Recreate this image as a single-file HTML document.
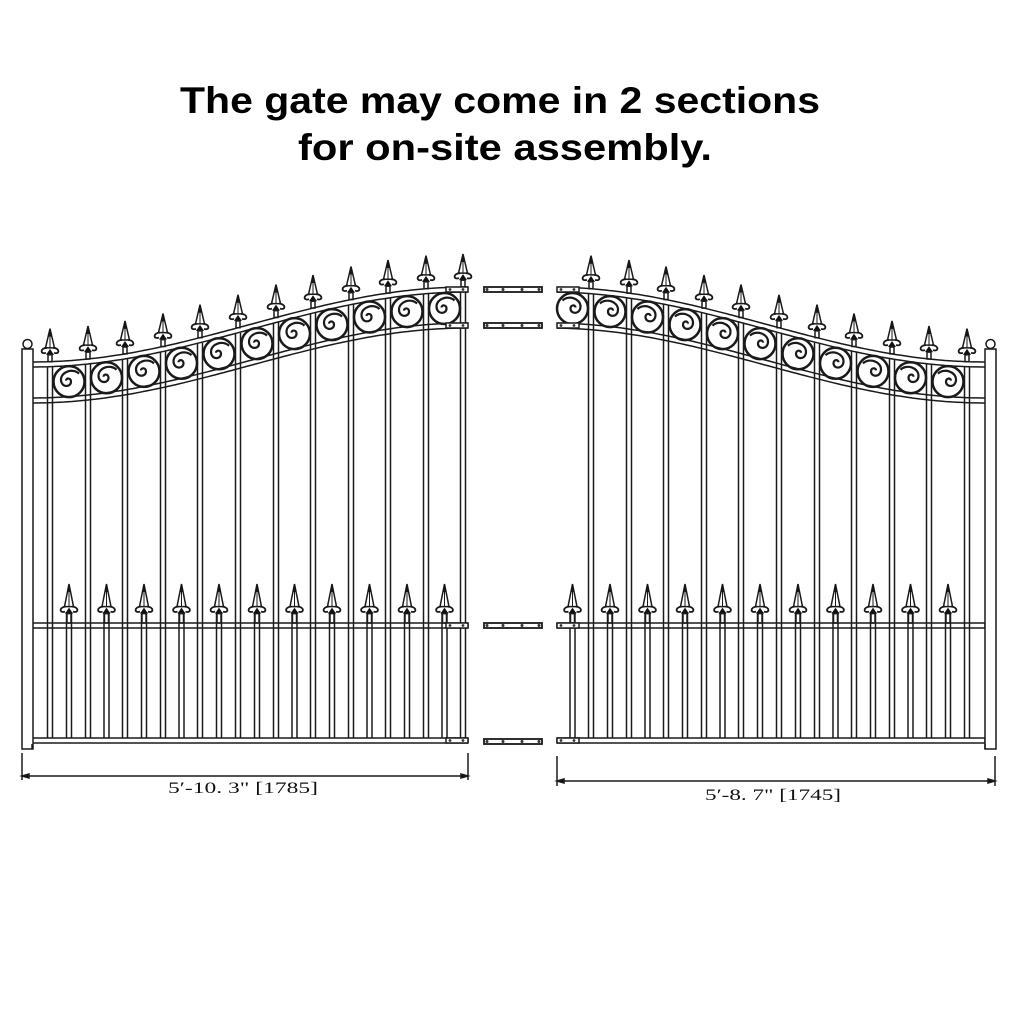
<!DOCTYPE html>
<html><head><meta charset="utf-8">
<style>
html,body{margin:0;padding:0;background:#fff;}
svg{display:block;}
</style></head>
<body>
<svg id="s" width="1024" height="1024" viewBox="0 0 1024 1024" xmlns="http://www.w3.org/2000/svg">
<rect width="1024" height="1024" fill="#fff"/>
<text x="500" y="113" font-family="Liberation Sans, sans-serif" font-weight="bold" font-size="37" text-anchor="middle" textLength="640" lengthAdjust="spacingAndGlyphs" fill="#000">The gate may come in 2 sections</text>
<text x="505" y="160" font-family="Liberation Sans, sans-serif" font-weight="bold" font-size="37" text-anchor="middle" textLength="414" lengthAdjust="spacingAndGlyphs" fill="#000">for on-site assembly.</text>
<text x="243" y="793" font-family="Liberation Serif, serif" font-size="16" text-anchor="middle" textLength="150" lengthAdjust="spacingAndGlyphs" fill="#111">5′-10. 3"  [1785]</text>
<text x="773" y="800" font-family="Liberation Serif, serif" font-size="16" text-anchor="middle" textLength="136" lengthAdjust="spacingAndGlyphs" fill="#111">5′-8. 7"  [1745]</text>
<g id="g" fill="none" stroke="#1a1a1a" stroke-width="1.5"></g>
</svg>
<script>
(function(){
var out=[];
function top(x){var t=(x-32)/436;if(t<0)t=0;if(t>1)t=1;return 362-75*(1-Math.cos(Math.PI*t))/2;}
function L(a,b,c,d){out.push('<line x1="'+a+'" y1="'+b+'" x2="'+c+'" y2="'+d+'"/>');}
function curve(off,x0,x1,M){var p='';for(var x=x0;x<=x1+0.01;x+=4){var X=M(x);p+=(p?'L':'M')+X.toFixed(1)+' '+(top(x)+off).toFixed(1);}out.push('<path d="'+p+'"/>');}
function spear(x,b,h){
 var t=b-h, m=b-h*0.42;
 out.push('<path d="M'+x+' '+t+' L'+(x-4.5)+' '+(m)+' L'+(x+4.5)+' '+(m)+' Z" stroke-width="1.5" fill="#fff"/>');
 out.push('<path d="M'+x+' '+t+' L'+(x-1.5)+' '+(t+8)+' L'+(x+1.5)+' '+(t+8)+' Z" fill="#111" stroke="none"/>');
 out.push('<path d="M'+x+' '+(t+4)+' L'+x+' '+(m)+'" stroke-width="1"/>');
 out.push('<path d="M'+(x-3)+' '+(m)+' C'+(x-10)+' '+(m)+' '+(x-10)+' '+(m+7)+' '+(x-4)+' '+(m+5)+' M'+(x+3)+' '+(m)+' C'+(x+10)+' '+(m)+' '+(x+10)+' '+(m+7)+' '+(x+4)+' '+(m+5)+'" stroke-width="1.8"/>');
 out.push('<path d="M'+x+' '+(m+1)+' L'+(x-4)+' '+(m+7)+' L'+(x+4)+' '+(m+7)+' Z" fill="#111" stroke="none"/>');
 out.push('<rect x="'+(x-2)+'" y="'+(m+7)+'" width="4" height="'+(b-m-7)+'"/>');
}
function scroll(cx,cy,mir){
 out.push('<circle cx="'+cx+'" cy="'+cy+'" r="15.5" stroke-width="2.5"/>');
 var s=mir?-1:1;
 out.push('<path d="M'+(cx+s*10)+' '+(cy-8)+' C'+(cx+s*4)+' '+(cy-14)+' '+(cx-s*8)+' '+(cy-10)+' '+(cx-s*8)+' '+(cy-2)+' C'+(cx-s*8)+' '+(cy+6)+' '+(cx+s*2)+' '+(cy+6)+' '+(cx+s*2)+' '+(cy)+' C'+(cx+s*2)+' '+(cy-4)+' '+(cx-s*3)+' '+(cy-4)+' '+(cx-s*3)+' '+(cy-1)+'" stroke-width="2.2"/>');
}
function gate(mir){
 var M=function(x){return mir?1017-x:x;};
 var xs=[50,88,125,163,200,238,276,313,351,388,426,463];
 curve(0,32,mir?460:468,M);curve(5,32,mir?460:468,M);curve(36,32,mir?460:468,M);curve(41,32,mir?460:468,M);
 var a=mir?557:32,b=mir?985:468;
 L(a,623,b,623);L(a,628,b,628);L(a,738,b,738);L(a,743,b,743);
 L(a,623,a,628);L(b,623,b,628);L(a,738,a,743);L(b,738,b,743);
 var px=mir?985:22;
 out.push('<path d="M'+px+' 349 L'+(px+11)+' 349 L'+(px+11)+' 749 L'+(px)+' 749 Z" fill="#fff"/>');
 out.push('<circle cx="'+(px+5.5)+'" cy="344" r="4.5" fill="#fff"/>');
 if(!mir){L(32,744,32,749);}else{L(985,744,985,749);}
 for(var i=0;i<xs.length;i++){
  if(mir&&i==11)continue;
  var x=M(xs[i]);var ty=top(xs[i]);
  L(x-2.5,ty+5,x-2.5,738);L(x+2.5,ty+5,x+2.5,738);
  spear(x,ty,33);
 }
 for(var i=0;i<11;i++){var sx=(xs[i]+xs[i+1])/2;var cx=M(sx);var cy=top(sx)+21;scroll(cx,cy,mir);}
 for(var i=0;i<11;i++){var sx=M((xs[i]+xs[i+1])/2);L(sx-2.5,612,sx-2.5,738);L(sx+2.5,612,sx+2.5,738);spear(sx,623,39);}
 var ex=mir?557:446, ew=22;
 [top(468),top(468)+36,623,738].forEach(function(y){
  out.push('<rect x="'+ex+'" y="'+y+'" width="'+ew+'" height="5" fill="#fff"/>');
  out.push('<circle cx="'+(ex+4)+'" cy="'+(y+2.5)+'" r="1.4" fill="#333" stroke="none"/>');
  out.push('<circle cx="'+(ex+17)+'" cy="'+(y+2.5)+'" r="1.4" fill="#333" stroke="none"/>');
 });
}
gate(false);gate(true);
[287,323,623,739].forEach(function(y){
 out.push('<rect x="484" y="'+y+'" width="58" height="5" fill="#fff" stroke-width="1.8"/>');
 [487,503,522,539].forEach(function(x){out.push('<circle cx="'+x+'" cy="'+(y+2.5)+'" r="1.5" fill="#333" stroke="none"/>');});
});
L(22,753,22,780);L(468,753,468,780);L(22,776,468,776);
L(557,756,557,786);L(995,756,995,786);L(557,781,995,781);
out.push('<path d="M22 776 l7 -2 v4 z M468 776 l-7 -2 v4 z M557 781 l7 -2 v4 z M995 781 l-7 -2 v4 z" fill="#111"/>');
document.getElementById('g').innerHTML=out.join('');
})();
</script>
</body></html>
